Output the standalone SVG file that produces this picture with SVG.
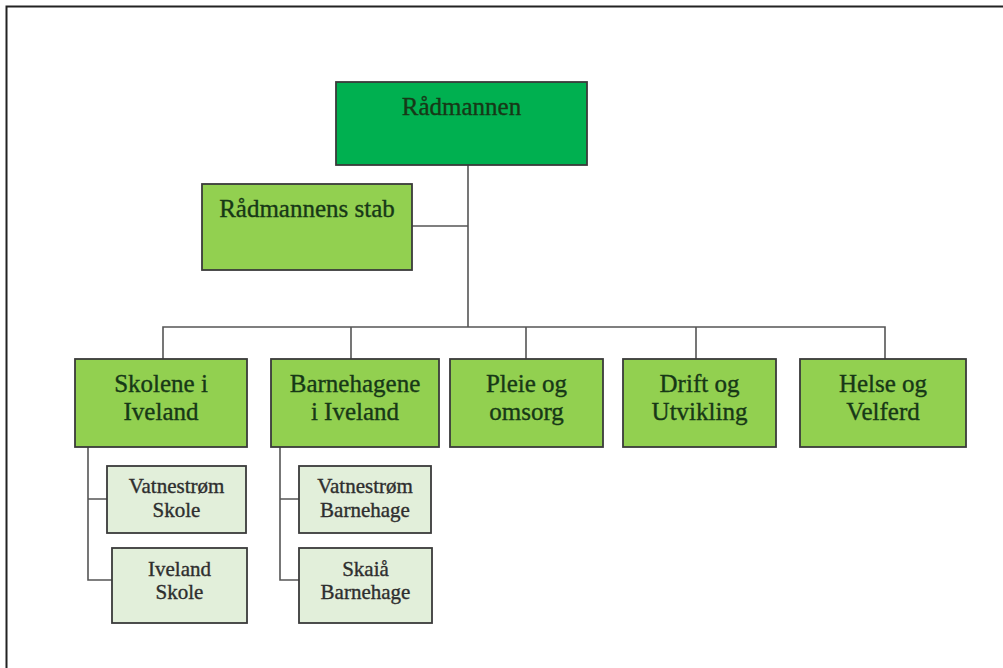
<svg xmlns="http://www.w3.org/2000/svg" width="1003" height="668" viewBox="0 0 1003 668">
<style>
.box{stroke:#3a3a3a;stroke-width:1.8}
.top{fill:#00b050}
.mid{fill:#92d050}
.sub{fill:#e2efda}
.t{font-family:"Liberation Serif","Times New Roman",serif;font-size:25px;fill:#173817;stroke:#173817;stroke-width:0.35;text-anchor:middle}
.s{font-family:"Liberation Serif","Times New Roman",serif;font-size:21px;fill:#2e2e2e;stroke:#2e2e2e;stroke-width:0.35;text-anchor:middle}
.ln{stroke:#555;stroke-width:1.6;fill:none}
</style>
<rect width="1003" height="668" fill="#fff"/>
<path d="M6.5 668V6.5H1003" stroke="#222" stroke-width="2" fill="none"/>
<g id="connectors">
<path class="ln" d="M468 165V327M412 226H468M163 359V327H885V359M351 327V359M526 327V359M696 327V359"/>
<path class="ln" d="M88 447V580H112M88 499H107"/>
<path class="ln" d="M280 447V580H299M280 499H299"/>
</g>
<g id="radmannen"><rect class="box top" x="336" y="82" width="251" height="83"/><text class="t" x="461.5" y="115">Rådmannen</text></g>
<g id="stab"><rect class="box mid" x="202" y="184" width="210" height="86"/><text class="t" x="307" y="217">Rådmannens stab</text></g>
<g id="skolene"><rect class="box mid" x="75" y="359" width="172" height="88"/><text class="t" x="161" y="392">Skolene i</text><text class="t" x="161" y="420">Iveland</text></g>
<g id="barnehagene"><rect class="box mid" x="271" y="359" width="168" height="88"/><text class="t" x="355" y="392">Barnehagene</text><text class="t" x="355" y="420">i Iveland</text></g>
<g id="pleie"><rect class="box mid" x="450" y="359" width="153" height="88"/><text class="t" x="526.5" y="392">Pleie og</text><text class="t" x="526.5" y="420">omsorg</text></g>
<g id="drift"><rect class="box mid" x="623" y="359" width="153" height="88"/><text class="t" x="699.5" y="392">Drift og</text><text class="t" x="699.5" y="420">Utvikling</text></g>
<g id="helse"><rect class="box mid" x="800" y="359" width="166" height="88"/><text class="t" x="883" y="392">Helse og</text><text class="t" x="883" y="420">Velferd</text></g>
<g id="vatnestrom-skole"><rect class="box sub" x="107" y="466" width="139" height="67"/><text class="s" x="176.5" y="493">Vatnestrøm</text><text class="s" x="176.5" y="517">Skole</text></g>
<g id="iveland-skole"><rect class="box sub" x="112" y="548" width="135" height="75"/><text class="s" x="179.5" y="576">Iveland</text><text class="s" x="179.5" y="599">Skole</text></g>
<g id="vatnestrom-barnehage"><rect class="box sub" x="299" y="466" width="132" height="67"/><text class="s" x="365" y="493">Vatnestrøm</text><text class="s" x="365" y="517">Barnehage</text></g>
<g id="skaia-barnehage"><rect class="box sub" x="299" y="548" width="133" height="75"/><text class="s" x="365.5" y="576">Skaiå</text><text class="s" x="365.5" y="599">Barnehage</text></g>
</svg>
